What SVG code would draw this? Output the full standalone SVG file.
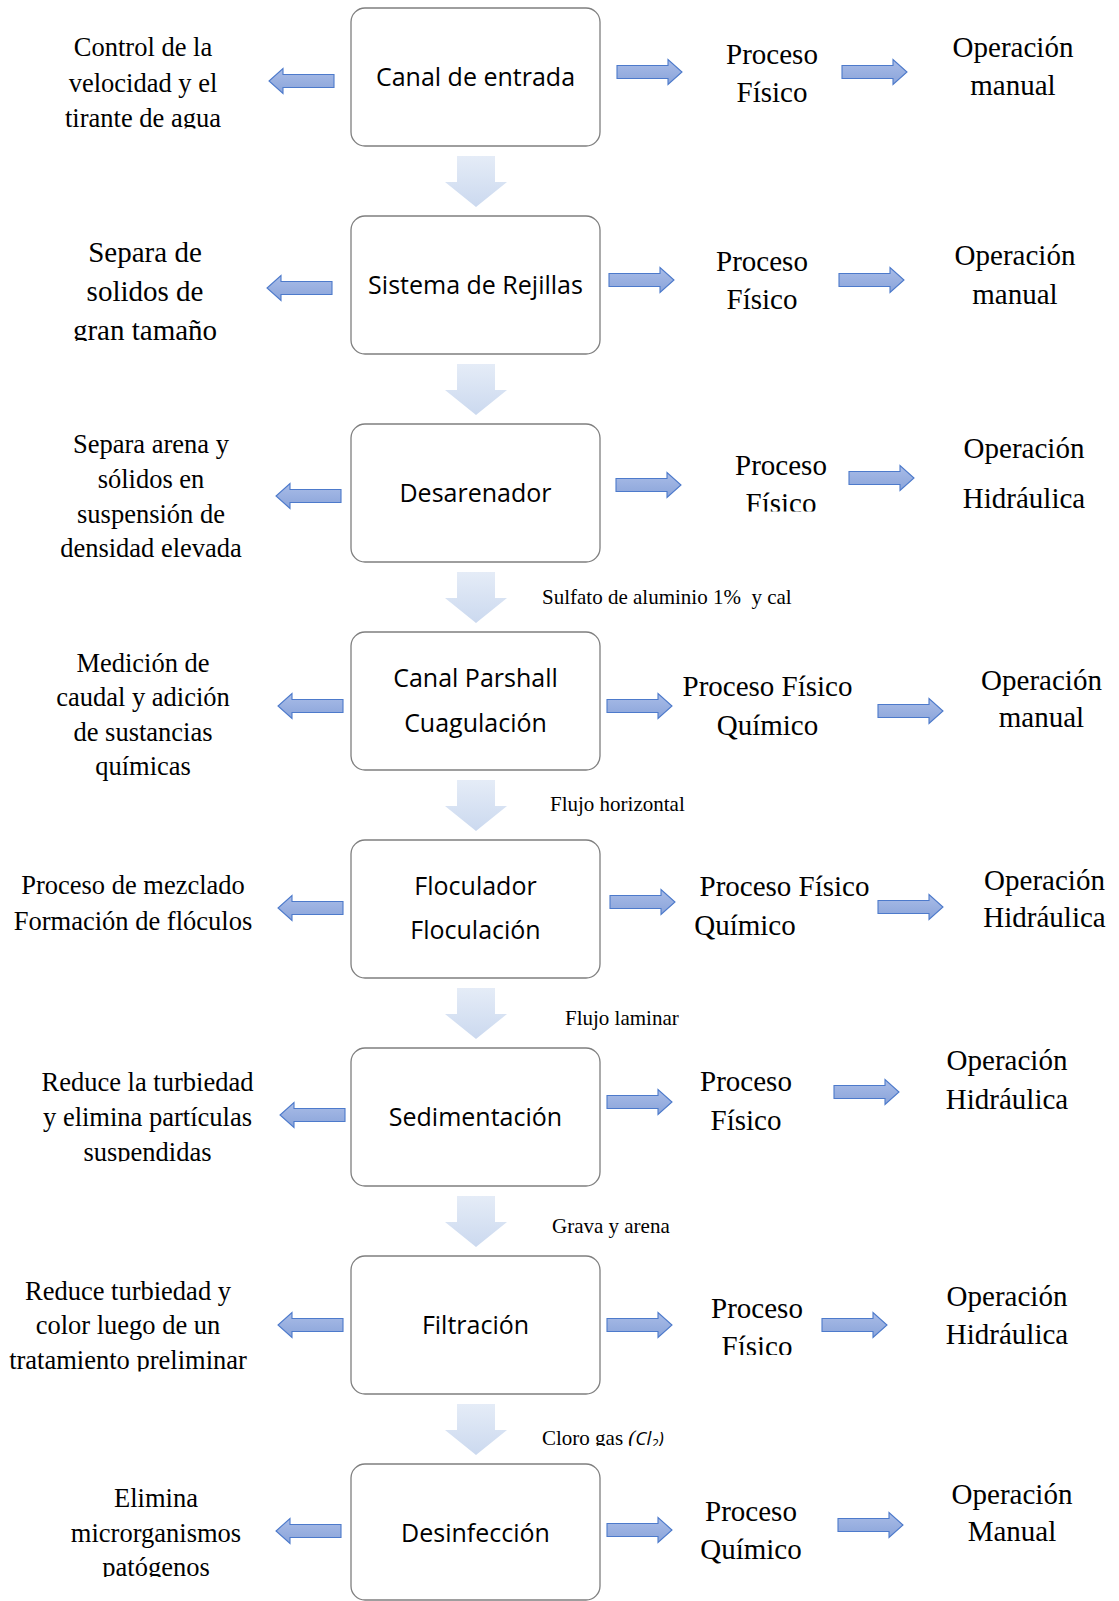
<svg xmlns="http://www.w3.org/2000/svg" xmlns:xlink="http://www.w3.org/1999/xlink" width="1119" height="1601" viewBox="0 0 1119 1601">
<style>
  .box{fill:#ffffff;stroke:#7f7f7f;stroke-width:1.3}
  .bt{font-family:"Open Sans","Noto Sans",sans-serif;font-size:25px;fill:#000;text-anchor:middle}
  .d{font-family:"Liberation Serif","Times New Roman",serif;font-size:26.5px;fill:#000;text-anchor:middle}
  .d29{font-size:29px}
  .p{font-family:"Liberation Serif","Times New Roman",serif;font-size:29px;fill:#000;text-anchor:middle}
  .lab{font-family:"Liberation Serif","Times New Roman",serif;font-size:21px;fill:#000}
  .ba{fill:url(#gBlue);stroke:#4d7acb;stroke-width:1.1}
  .da{fill:url(#gLight)}
</style>
<defs>
  <linearGradient id="gBlue" x1="0" y1="0" x2="0" y2="1">
    <stop offset="0" stop-color="#a9bce7"/>
    <stop offset="1" stop-color="#8aa4da"/>
  </linearGradient>
  <linearGradient id="gLight" x1="0" y1="0" x2="0" y2="1">
    <stop offset="0" stop-color="#e5ecf7"/>
    <stop offset="1" stop-color="#cbd9ef"/>
  </linearGradient>
  <path id="ra" d="M0,-6.5 H51 V-12.5 L65,0 L51,12.5 V6.5 H0 Z"/>
  <path id="la" d="M65,-6.5 H14 V-12.5 L0,0 L14,12.5 V6.5 H65 Z"/>
  <path id="dn" d="M-19,0 H19 V26 H31 L0,51 L-31,26 H-19 Z"/>
  <clipPath id="c1"><rect x="0" y="0" width="345" height="128.5"/></clipPath>
  <clipPath id="c2"><rect x="0" y="200" width="345" height="141"/></clipPath>
  <clipPath id="c3"><rect x="690" y="420" width="160" height="91.5"/></clipPath>
  <clipPath id="c6"><rect x="0" y="1040" width="345" height="121.5"/></clipPath>
  <clipPath id="c7a"><rect x="0" y="1250" width="345" height="121.5"/></clipPath>
  <clipPath id="c7b"><rect x="690" y="1250" width="150" height="105"/></clipPath>
  <clipPath id="c8"><rect x="0" y="1460" width="345" height="117"/></clipPath>
  <clipPath id="cC"><rect x="520" y="1400" width="200" height="46"/></clipPath>
</defs>
<rect x="0" y="0" width="1119" height="1601" fill="#ffffff"/>

<g id="connectors">
  <g class="da">
    <use xlink:href="#dn" href="#dn" transform="translate(476,156)"/>
    <use xlink:href="#dn" href="#dn" transform="translate(476,364)"/>
    <use xlink:href="#dn" href="#dn" transform="translate(476,572)"/>
    <use xlink:href="#dn" href="#dn" transform="translate(476,780)"/>
    <use xlink:href="#dn" href="#dn" transform="translate(476,988)"/>
    <use xlink:href="#dn" href="#dn" transform="translate(476,1196)"/>
    <use xlink:href="#dn" href="#dn" transform="translate(476,1404)"/>
  </g>
  <g class="ba">
    <use xlink:href="#la" href="#la" transform="translate(269,81)"/>
    <use xlink:href="#ra" href="#ra" transform="translate(617,72)"/>
    <use xlink:href="#ra" href="#ra" transform="translate(842,72)"/>

    <use xlink:href="#la" href="#la" transform="translate(267,288)"/>
    <use xlink:href="#ra" href="#ra" transform="translate(609,280)"/>
    <use xlink:href="#ra" href="#ra" transform="translate(839,280)"/>

    <use xlink:href="#la" href="#la" transform="translate(276,496)"/>
    <use xlink:href="#ra" href="#ra" transform="translate(616,485)"/>
    <use xlink:href="#ra" href="#ra" transform="translate(849,478)"/>

    <use xlink:href="#la" href="#la" transform="translate(278,706)"/>
    <use xlink:href="#ra" href="#ra" transform="translate(607,706)"/>
    <use xlink:href="#ra" href="#ra" transform="translate(878,711)"/>

    <use xlink:href="#la" href="#la" transform="translate(278,908)"/>
    <use xlink:href="#ra" href="#ra" transform="translate(610,902)"/>
    <use xlink:href="#ra" href="#ra" transform="translate(878,907)"/>

    <use xlink:href="#la" href="#la" transform="translate(280,1115)"/>
    <use xlink:href="#ra" href="#ra" transform="translate(607,1102)"/>
    <use xlink:href="#ra" href="#ra" transform="translate(834,1092)"/>

    <use xlink:href="#la" href="#la" transform="translate(278,1325)"/>
    <use xlink:href="#ra" href="#ra" transform="translate(607,1325)"/>
    <use xlink:href="#ra" href="#ra" transform="translate(822,1325)"/>

    <use xlink:href="#la" href="#la" transform="translate(276,1531)"/>
    <use xlink:href="#ra" href="#ra" transform="translate(607,1530)"/>
    <use xlink:href="#ra" href="#ra" transform="translate(838,1525)"/>
  </g>
  <g id="flow-labels" class="lab">
    <text x="542" y="604" xml:space="preserve">Sulfato de aluminio 1%  y cal</text>
    <text x="550" y="811">Flujo horizontal</text>
    <text x="565" y="1025">Flujo laminar</text>
    <text x="552" y="1233">Grava y arena</text>
    <g clip-path="url(#cC)">
      <text x="542" y="1444.5">Cloro gas <tspan font-style="italic">(</tspan><tspan font-family="'Open Sans','Noto Sans',sans-serif" font-style="italic" font-size="19">Cl</tspan><tspan font-family="'Open Sans','Noto Sans',sans-serif" font-style="italic" font-size="13" dy="3">2</tspan><tspan font-family="'Open Sans','Noto Sans',sans-serif" font-style="italic" font-size="19" dy="-3">)</tspan></text>
    </g>
  </g>
</g>

<!-- Row 1 -->
<g id="canal-entrada">
  <rect class="box" x="351" y="8" width="249" height="138" rx="14"/>
  <text class="bt" x="475.5" y="86">Canal de entrada</text>
</g>
<g id="desc-1" class="d" clip-path="url(#c1)">
  <text x="143" y="56">Control de la</text>
  <text x="143" y="92">velocidad y el</text>
  <text x="143" y="127">tirante de agua</text>
</g>
<g id="proc-1" class="p">
  <text x="772" y="64">Proceso</text>
  <text x="772" y="102">Físico</text>
</g>
<g id="op-1" class="p">
  <text x="1013" y="57">Operación</text>
  <text x="1013" y="95">manual</text>
</g>

<!-- Row 2 -->
<g id="sistema-rejillas">
  <rect class="box" x="351" y="216" width="249" height="138" rx="14"/>
  <text class="bt" x="475.5" y="294">Sistema de Rejillas</text>
</g>
<g id="desc-2" class="d d29" clip-path="url(#c2)">
  <text x="145" y="261.5">Separa de</text>
  <text x="145" y="300.5">solidos de</text>
  <text x="145" y="339.5">gran tamaño</text>
</g>
<g id="proc-2" class="p">
  <text x="762" y="270.5">Proceso</text>
  <text x="762" y="308.5">Físico</text>
</g>
<g id="op-2" class="p">
  <text x="1015" y="264.5">Operación</text>
  <text x="1015" y="303.5">manual</text>
</g>

<!-- Row 3 -->
<g id="desarenador">
  <rect class="box" x="351" y="424" width="249" height="138" rx="14"/>
  <text class="bt" x="475.5" y="502">Desarenador</text>
</g>
<g id="desc-3" class="d">
  <text x="151" y="453">Separa arena y</text>
  <text x="151" y="488">sólidos en</text>
  <text x="151" y="522.5">suspensión de</text>
  <text x="151" y="557">densidad elevada</text>
</g>
<g id="proc-3" class="p">
  <text x="781" y="475">Proceso</text>
  <text x="781" y="513" clip-path="url(#c3)">Físico</text>
</g>
<g id="op-3" class="p">
  <text x="1024" y="457.5">Operación</text>
  <text x="1024" y="508">Hidráulica</text>
</g>

<!-- Row 4 -->
<g id="canal-parshall">
  <rect class="box" x="351" y="632" width="249" height="138" rx="14"/>
  <text class="bt" x="475.5" y="687">Canal Parshall</text>
  <text class="bt" x="475.5" y="732">Cuagulación</text>
</g>
<g id="desc-4" class="d">
  <text x="143" y="671.5">Medición de</text>
  <text x="143" y="706">caudal y adición</text>
  <text x="143" y="740.5">de sustancias</text>
  <text x="143" y="775">químicas</text>
</g>
<g id="proc-4" class="p">
  <text x="767.5" y="696">Proceso Físico</text>
  <text x="767.5" y="735">Químico</text>
</g>
<g id="op-4" class="p">
  <text x="1041.5" y="689.5">Operación</text>
  <text x="1041.5" y="727">manual</text>
</g>

<!-- Row 5 -->
<g id="floculador">
  <rect class="box" x="351" y="840" width="249" height="138" rx="14"/>
  <text class="bt" x="475.5" y="895">Floculador</text>
  <text class="bt" x="475.5" y="939">Floculación</text>
</g>
<g id="desc-5" class="d">
  <text x="133" y="893.5">Proceso de mezclado</text>
  <text x="133" y="929.5">Formación de flóculos</text>
</g>
<g id="proc-5" class="p">
  <text x="784.5" y="896">Proceso Físico</text>
  <text x="745" y="935">Químico</text>
</g>
<g id="op-5" class="p">
  <text x="1044.5" y="889.5">Operación</text>
  <text x="1044.5" y="927">Hidráulica</text>
</g>

<!-- Row 6 -->
<g id="sedimentacion">
  <rect class="box" x="351" y="1048" width="249" height="138" rx="14"/>
  <text class="bt" x="475.5" y="1126">Sedimentación</text>
</g>
<g id="desc-6" class="d" clip-path="url(#c6)">
  <text x="147.5" y="1091">Reduce la turbiedad</text>
  <text x="147.5" y="1126">y elimina partículas</text>
  <text x="147.5" y="1160.5">suspendidas</text>
</g>
<g id="proc-6" class="p">
  <text x="746" y="1090.5">Proceso</text>
  <text x="746" y="1129.5">Físico</text>
</g>
<g id="op-6" class="p">
  <text x="1007" y="1069.5">Operación</text>
  <text x="1007" y="1108.5">Hidráulica</text>
</g>

<!-- Row 7 -->
<g id="filtracion">
  <rect class="box" x="351" y="1256" width="249" height="138" rx="14"/>
  <text class="bt" x="475.5" y="1334">Filtración</text>
</g>
<g id="desc-7" class="d" clip-path="url(#c7a)">
  <text x="128" y="1299.5">Reduce turbiedad y</text>
  <text x="128" y="1334">color luego de un</text>
  <text x="128" y="1369">tratamiento preliminar</text>
</g>
<g id="proc-7" class="p">
  <text x="757" y="1317.5">Proceso</text>
  <text x="757" y="1355.5" clip-path="url(#c7b)">Físico</text>
</g>
<g id="op-7" class="p">
  <text x="1007" y="1305.5">Operación</text>
  <text x="1007" y="1343.5">Hidráulica</text>
</g>

<!-- Row 8 -->
<g id="desinfeccion">
  <rect class="box" x="351" y="1464" width="249" height="136" rx="14"/>
  <text class="bt" x="475.5" y="1542">Desinfección</text>
</g>
<g id="desc-8" class="d" clip-path="url(#c8)">
  <text x="156" y="1507">Elimina</text>
  <text x="156" y="1541.5">microrganismos</text>
  <text x="156" y="1576">patógenos</text>
</g>
<g id="proc-8" class="p">
  <text x="751" y="1521">Proceso</text>
  <text x="751" y="1559">Químico</text>
</g>
<g id="op-8" class="p">
  <text x="1012" y="1503.5">Operación</text>
  <text x="1012" y="1541">Manual</text>
</g>
</svg>
